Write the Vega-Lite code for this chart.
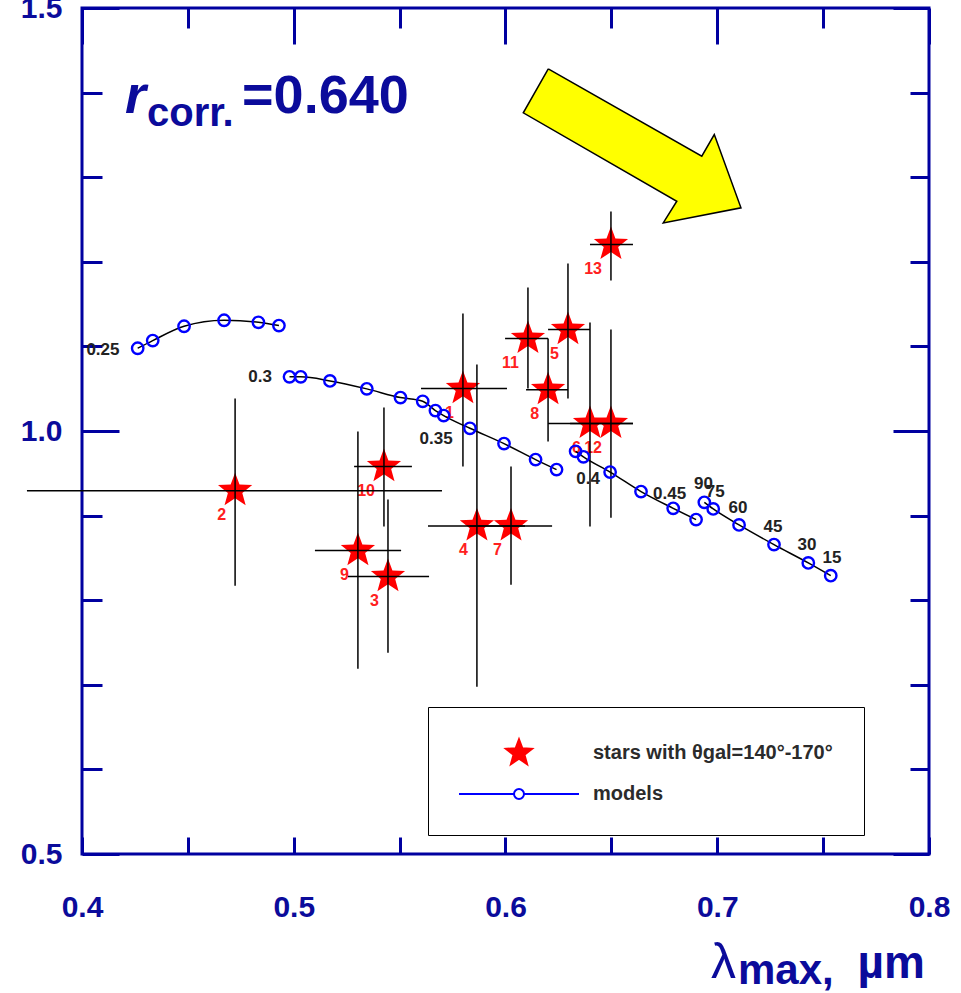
{
  "$schema": "https://vega.github.io/schema/vega-lite/v6.json",
  "width": 847,
  "height": 846,
  "autosize": "none",
  "padding": {"left": 82, "top": 8, "right": 32, "bottom": 139},
  "background": "white",
  "config": {"view": {"stroke": "#0000a0", "strokeWidth": 3}, "font": "Liberation Sans"},
  "resolve": {"axis": {"x": "independent", "y": "independent"}},
  "datasets": {
    "stars": [
      {"id": "1", "x": 0.5799, "y": 1.0501, "xlo": 0.5601, "xhi": 0.6007, "ylo": 0.9579, "yhi": 1.1388},
      {"id": "2", "x": 0.4723, "y": 0.9295, "xlo": 0.3740, "xhi": 0.5700, "ylo": 0.8172, "yhi": 1.0383},
      {"id": "3", "x": 0.5445, "y": 0.8279, "xlo": 0.5256, "xhi": 0.5639, "ylo": 0.7380, "yhi": 0.9189},
      {"id": "4", "x": 0.5865, "y": 0.8878, "xlo": 0.5634, "xhi": 0.6092, "ylo": 0.6978, "yhi": 1.0785},
      {"id": "5", "x": 0.6295, "y": 1.1199, "xlo": 0.6201, "xhi": 0.6399, "ylo": 1.0383, "yhi": 1.1979},
      {"id": "6", "x": 0.6399, "y": 1.0088, "xlo": 0.6201, "xhi": 0.6602, "ylo": 0.8870, "yhi": 1.1282},
      {"id": "7", "x": 0.6026, "y": 0.8878, "xlo": 0.5832, "xhi": 0.6220, "ylo": 0.8184, "yhi": 0.9579},
      {"id": "8", "x": 0.6201, "y": 1.0489, "xlo": 0.6097, "xhi": 0.6295, "ylo": 0.9875, "yhi": 1.1093},
      {"id": "9", "x": 0.5303, "y": 0.8586, "xlo": 0.5100, "xhi": 0.5507, "ylo": 0.7191, "yhi": 0.9993},
      {"id": "10", "x": 0.5426, "y": 0.9579, "xlo": 0.5285, "xhi": 0.5558, "ylo": 0.8870, "yhi": 1.0277},
      {"id": "11", "x": 0.6106, "y": 1.1093, "xlo": 0.5998, "xhi": 0.6201, "ylo": 1.0501, "yhi": 1.1696},
      {"id": "12", "x": 0.6498, "y": 1.0088, "xlo": 0.6305, "xhi": 0.6602, "ylo": 0.8976, "yhi": 1.1199},
      {"id": "13", "x": 0.6498, "y": 1.2204, "xlo": 0.6399, "xhi": 0.6602, "ylo": 1.1778, "yhi": 1.2594}
    ],
    "models": [
      {"seg": 1, "i": 1, "x": 0.4263, "y": 1.0978},
      {"seg": 1, "i": 2, "x": 0.4334, "y": 1.1069},
      {"seg": 1, "i": 3, "x": 0.4482, "y": 1.1238},
      {"seg": 1, "i": 4, "x": 0.4671, "y": 1.1309},
      {"seg": 1, "i": 5, "x": 0.4833, "y": 1.1285},
      {"seg": 1, "i": 6, "x": 0.4930, "y": 1.1246},
      {"seg": 2, "i": 1, "x": 0.4980, "y": 1.0640},
      {"seg": 2, "i": 2, "x": 0.5033, "y": 1.0640},
      {"seg": 2, "i": 3, "x": 0.5171, "y": 1.0592},
      {"seg": 2, "i": 4, "x": 0.5345, "y": 1.0498},
      {"seg": 2, "i": 5, "x": 0.5504, "y": 1.0395},
      {"seg": 2, "i": 6, "x": 0.5609, "y": 1.0351},
      {"seg": 2, "i": 7, "x": 0.5669, "y": 1.0241},
      {"seg": 2, "i": 8, "x": 0.5708, "y": 1.0182},
      {"seg": 2, "i": 9, "x": 0.5832, "y": 1.0032},
      {"seg": 2, "i": 10, "x": 0.5993, "y": 0.9851},
      {"seg": 2, "i": 11, "x": 0.6142, "y": 0.9662},
      {"seg": 2, "i": 12, "x": 0.6241, "y": 0.9544},
      {"seg": 3, "i": 1, "x": 0.6331, "y": 0.9760},
      {"seg": 3, "i": 2, "x": 0.6368, "y": 0.9695},
      {"seg": 3, "i": 3, "x": 0.6494, "y": 0.9514},
      {"seg": 3, "i": 4, "x": 0.6640, "y": 0.9284},
      {"seg": 3, "i": 5, "x": 0.6792, "y": 0.9086},
      {"seg": 3, "i": 6, "x": 0.6900, "y": 0.8953},
      {"seg": 4, "i": 1, "x": 0.6939, "y": 0.9157},
      {"seg": 4, "i": 2, "x": 0.6981, "y": 0.9079},
      {"seg": 4, "i": 3, "x": 0.7103, "y": 0.8890},
      {"seg": 4, "i": 4, "x": 0.7268, "y": 0.8657},
      {"seg": 4, "i": 5, "x": 0.7430, "y": 0.8441},
      {"seg": 4, "i": 6, "x": 0.7536, "y": 0.8290}
    ],
    "mlabels": [
      {"label": "0.25", "x": 0.4099, "y": 1.0962},
      {"label": "0.3", "x": 0.4841, "y": 1.0640},
      {"label": "0.35", "x": 0.5672, "y": 0.9910},
      {"label": "0.4", "x": 0.6390, "y": 0.9437},
      {"label": "0.45", "x": 0.6775, "y": 0.9260},
      {"label": "90", "x": 0.6935, "y": 0.9378},
      {"label": "75", "x": 0.6990, "y": 0.9284},
      {"label": "60", "x": 0.7098, "y": 0.9094},
      {"label": "45", "x": 0.7263, "y": 0.8870},
      {"label": "30", "x": 0.7424, "y": 0.8657},
      {"label": "15", "x": 0.7542, "y": 0.8503}
    ],
    "arrow": [
      {"i": 0, "x": 0.6202, "y": 1.4281},
      {"i": 1, "x": 0.6927, "y": 1.3248},
      {"i": 2, "x": 0.6986, "y": 1.3504},
      {"i": 3, "x": 0.7112, "y": 1.2638},
      {"i": 4, "x": 0.6745, "y": 1.2460},
      {"i": 5, "x": 0.6809, "y": 1.2716},
      {"i": 6, "x": 0.6084, "y": 1.3761},
      {"i": 7, "x": 0.6202, "y": 1.4281}
    ]
  },
  "layer": [
    {
      "data": {"name": "arrow"},
      "mark": {"type": "line", "fill": "#ffff00", "stroke": "#000000", "strokeWidth": 1.5, "strokeJoin": "miter"},
      "encoding": {
        "x": {"field": "x", "type": "quantitative", "scale": {"domain": [0.4, 0.8], "nice": false, "zero": false}, "axis": null},
        "y": {"field": "y", "type": "quantitative", "scale": {"domain": [0.5, 1.5], "nice": false, "zero": false}, "axis": null},
        "order": {"field": "i", "type": "quantitative"}
      }
    },
    {
      "data": {"name": "stars"},
      "mark": {"type": "point", "shape": "M0,-1L0.2469,-0.3398L0.9511,-0.309L0.3995,0.1298L0.5878,0.809L0,0.42L-0.5878,0.809L-0.3995,0.1298L-0.9511,-0.309L-0.2469,-0.3398Z", "filled": true, "color": "#ff0000", "size": 1296, "opacity": 1},
      "encoding": {
        "x": {"field": "x", "type": "quantitative", "scale": {"domain": [0.4, 0.8], "nice": false, "zero": false},
          "axis": {"orient": "bottom", "values": [0.4, 0.5, 0.6, 0.7, 0.8], "format": ".1f", "ticks": false, "domain": false, "grid": false, "title": null,
            "labelFontSize": 30, "labelFontWeight": "bold", "labelColor": "#0b0b9b", "labelPadding": 53, "labelBaseline": "middle", "labelFlush": false, "labelOverlap": false, "labelFont": "Liberation Sans"}},
        "y": {"field": "y", "type": "quantitative", "scale": {"domain": [0.5, 1.5], "nice": false, "zero": false},
          "axis": {"orient": "left", "values": [0.5, 1.0, 1.5], "format": ".1f", "ticks": false, "domain": false, "grid": false, "title": null,
            "labelFontSize": 30, "labelFontWeight": "bold", "labelColor": "#0b0b9b", "labelPadding": 20, "labelOverlap": false, "labelFont": "Liberation Sans"}}
      }
    },
    {
      "data": {"name": "stars"},
      "mark": {"type": "text", "align": "right", "baseline": "middle", "dx": -9, "dy": 24, "fontSize": 16, "fontWeight": "bold", "color": "#ff2020", "font": "Liberation Sans"},
      "encoding": {
        "x": {"field": "x", "type": "quantitative", "scale": {"domain": [0.4, 0.8], "nice": false, "zero": false}, "axis": null},
        "y": {"field": "y", "type": "quantitative", "scale": {"domain": [0.5, 1.5], "nice": false, "zero": false}, "axis": null},
        "text": {"field": "id"}
      }
    },
    {
      "data": {"name": "stars"},
      "mark": {"type": "rule", "color": "#000000", "strokeWidth": 1.5},
      "encoding": {
        "x": {"field": "xlo", "type": "quantitative", "scale": {"domain": [0.4, 0.8], "nice": false, "zero": false},
          "axis": {"orient": "bottom", "values": [0.4, 0.45, 0.5, 0.55, 0.6, 0.65, 0.7, 0.75, 0.8], "labels": false, "domain": false, "grid": false, "title": null,
            "ticks": true, "tickSize": -17, "tickWidth": 3, "tickColor": "#0000a0"}},
        "x2": {"field": "xhi"},
        "y": {"field": "y", "type": "quantitative", "scale": {"domain": [0.5, 1.5], "nice": false, "zero": false},
          "axis": {"orient": "left", "values": [0.5, 0.6, 0.7, 0.8, 0.9, 1.0, 1.1, 1.2, 1.3, 1.4, 1.5], "labels": false, "domain": false, "grid": false, "title": null,
            "ticks": true, "tickWidth": 3, "tickColor": "#0000a0",
            "tickSize": {"condition": {"test": "abs(datum.value*2 - round(datum.value*2)) < 0.001", "value": -37}, "value": -20}}}
      }
    },
    {
      "data": {"name": "stars"},
      "mark": {"type": "rule", "color": "#000000", "strokeWidth": 1.5},
      "encoding": {
        "x": {"field": "x", "type": "quantitative", "scale": {"domain": [0.4, 0.8], "nice": false, "zero": false},
          "axis": {"orient": "top", "values": [0.4, 0.45, 0.5, 0.55, 0.6, 0.65, 0.7, 0.75, 0.8], "labels": false, "domain": false, "grid": false, "title": null,
            "ticks": true, "tickWidth": 3, "tickColor": "#0000a0",
            "tickSize": {"condition": {"test": "abs(datum.value*10 - round(datum.value*10)) < 0.001", "value": -36}, "value": -20}}},
        "y": {"field": "ylo", "type": "quantitative", "scale": {"domain": [0.5, 1.5], "nice": false, "zero": false},
          "axis": {"orient": "right", "values": [0.5, 0.6, 0.7, 0.8, 0.9, 1.0, 1.1, 1.2, 1.3, 1.4, 1.5], "labels": false, "domain": false, "grid": false, "title": null,
            "ticks": true, "tickWidth": 3, "tickColor": "#0000a0",
            "tickSize": {"condition": {"test": "abs(datum.value*2 - round(datum.value*2)) < 0.001", "value": -36}, "value": -19}}},
        "y2": {"field": "yhi"}
      }
    },
    {
      "data": {"name": "models"},
      "mark": {"type": "line", "color": "#000000", "strokeWidth": 1.5, "interpolate": "monotone"},
      "encoding": {
        "x": {"field": "x", "type": "quantitative", "scale": {"domain": [0.4, 0.8], "nice": false, "zero": false}, "axis": null},
        "y": {"field": "y", "type": "quantitative", "scale": {"domain": [0.5, 1.5], "nice": false, "zero": false}, "axis": null},
        "detail": {"field": "seg", "type": "nominal"},
        "order": {"field": "i", "type": "quantitative"}
      }
    },
    {
      "data": {"name": "models"},
      "mark": {"type": "point", "shape": "circle", "filled": false, "color": "#0000ff", "strokeWidth": 2.4, "size": 130, "opacity": 1},
      "encoding": {
        "x": {"field": "x", "type": "quantitative", "scale": {"domain": [0.4, 0.8], "nice": false, "zero": false}, "axis": null},
        "y": {"field": "y", "type": "quantitative", "scale": {"domain": [0.5, 1.5], "nice": false, "zero": false}, "axis": null}
      }
    },
    {
      "data": {"name": "mlabels"},
      "mark": {"type": "text", "align": "center", "baseline": "middle", "fontSize": 17, "fontWeight": "bold", "color": "#222222", "font": "Liberation Sans"},
      "encoding": {
        "x": {"field": "x", "type": "quantitative", "scale": {"domain": [0.4, 0.8], "nice": false, "zero": false}, "axis": null},
        "y": {"field": "y", "type": "quantitative", "scale": {"domain": [0.5, 1.5], "nice": false, "zero": false}, "axis": null},
        "text": {"field": "label"}
      }
    },
    {
      "data": {"values": []},
      "mark": {"type": "point", "filled": false, "opacity": 1, "size": 750, "strokeWidth": 2},
      "encoding": {
        "shape": {"field": "series", "type": "nominal",
          "scale": {"domain": ["stars with θgal=140°-170°", "models"],
            "range": ["M0,-1L0.2469,-0.3398L0.9511,-0.309L0.3995,0.1298L0.5878,0.809L0,0.42L-0.5878,0.809L-0.3995,0.1298L-0.9511,-0.309L-0.2469,-0.3398Z",
                      "M-4.38,0L-0.365,0M0.365,0L4.38,0M0.365,0A0.365,0.365,0,1,1,-0.365,0A0.365,0.365,0,1,1,0.365,0"]},
          "legend": {"orient": "none", "legendX": 346, "legendY": 699, "title": null, "padding": 31,
            "strokeColor": "#000000", "fillColor": "#ffffff", "labelFont": "Liberation Sans", "labelFontSize": 20, "labelFontWeight": "bold",
            "labelColor": "#2b2b2b", "symbolSize": 750, "symbolStrokeWidth": 2, "symbolOffset": 45, "labelOffset": 59, "rowPadding": 10, "labelLimit": 500}},
        "fill": {"field": "series", "type": "nominal",
          "scale": {"domain": ["stars with θgal=140°-170°", "models"], "range": ["#ff0000", "transparent"]}},
        "stroke": {"field": "series", "type": "nominal",
          "scale": {"domain": ["stars with θgal=140°-170°", "models"], "range": ["#ff0000", "#0000ff"]}}
      }
    },
    {
      "data": {"values": [{"t": "r"}]},
      "mark": {"type": "text", "align": "left", "baseline": "alphabetic", "fontSize": 54, "fontWeight": "bold", "fontStyle": "italic", "color": "#0b0b9b", "font": "Liberation Sans"},
      "encoding": {"x": {"datum": 0.4203, "type": "quantitative", "axis": null}, "y": {"datum": 1.3764, "type": "quantitative", "axis": null}, "text": {"field": "t"}}
    },
    {
      "data": {"values": [{"t": "corr."}]},
      "mark": {"type": "text", "align": "left", "baseline": "alphabetic", "fontSize": 40, "fontWeight": "bold", "color": "#0b0b9b", "font": "Liberation Sans"},
      "encoding": {"x": {"datum": 0.4307, "type": "quantitative", "axis": null}, "y": {"datum": 1.3611, "type": "quantitative", "axis": null}, "text": {"field": "t"}}
    },
    {
      "data": {"values": [{"t": "=0.640"}]},
      "mark": {"type": "text", "align": "left", "baseline": "alphabetic", "fontSize": 54, "fontWeight": "bold", "color": "#0b0b9b", "font": "Liberation Sans"},
      "encoding": {"x": {"datum": 0.4756, "type": "quantitative", "axis": null}, "y": {"datum": 1.3764, "type": "quantitative", "axis": null}, "text": {"field": "t"}}
    },
    {
      "data": {"values": [{"t": "λ"}]},
      "mark": {"type": "text", "align": "left", "baseline": "alphabetic", "fontSize": 50, "color": "#0b0b9b", "font": "Liberation Sans"},
      "encoding": {"x": {"datum": 0.6970, "type": "quantitative", "axis": null}, "y": {"datum": 0.3538, "type": "quantitative", "axis": null}, "text": {"field": "t"}}
    },
    {
      "data": {"values": [{"t": "max,"}]},
      "mark": {"type": "text", "align": "left", "baseline": "alphabetic", "fontSize": 42, "fontWeight": "bold", "color": "#0b0b9b", "font": "Liberation Sans"},
      "encoding": {"x": {"datum": 0.7098, "type": "quantitative", "axis": null}, "y": {"datum": 0.3467, "type": "quantitative", "axis": null}, "text": {"field": "t"}}
    },
    {
      "data": {"values": [{"t": "µm"}]},
      "mark": {"type": "text", "align": "right", "baseline": "alphabetic", "fontSize": 46, "fontWeight": "bold", "color": "#0b0b9b", "font": "Liberation Sans"},
      "encoding": {"x": {"datum": 0.7981, "type": "quantitative", "axis": null}, "y": {"datum": 0.3538, "type": "quantitative", "axis": null}, "text": {"field": "t"}}
    }
  ]
}
